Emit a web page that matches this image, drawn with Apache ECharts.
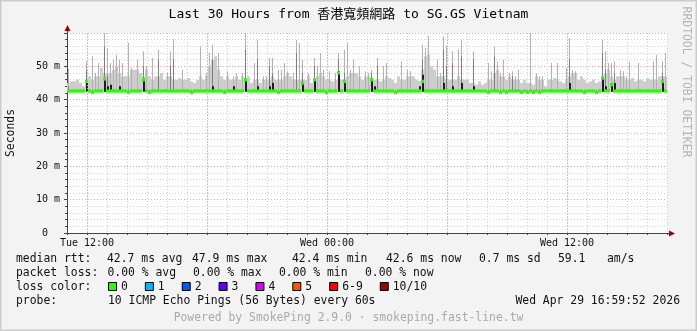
<!DOCTYPE html>
<html><head><meta charset="utf-8">
<script src="https://cdn.jsdelivr.net/npm/echarts@6/dist/echarts.min.js"></script>
<style>html,body{margin:0;padding:0;background:#f3f3f3;overflow:hidden}#c{width:697px;height:331px}</style>
</head><body><div id="c"></div>
<script>
// ---------------- data ----------------
const titleText = 'Last 30 Hours from 香港寬頻網路 to SG.GS Vietnam';
const yAxisTitle = 'Seconds';
const sideText = 'RRDTOOL / TOBI OETIKER';
const stepHours = 0.15;             // 9-minute columns, 200 columns = 30 h (from Tue 11:00)
const xTickHours = [1, 13, 25];
const xTickLabels = ['Tue 12:00', 'Wed 00:00', 'Wed 12:00'];
const majorGridHours = [1, 7, 13, 19, 25];
const yTickValues = [0, 10, 20, 30, 40, 50];
const yTickLabels = ['0  ', '10 m', '20 m', '30 m', '40 m', '50 m'];
const smokeFloor = 42.4;   // ms

// broad smoke level per column (ms)
const smokeBase = [
 45,45.5,45.5,46,45,44,46,47,46,47,
 47,49.5,48,48,48,49,50,48,47,47,
 47,49,49,49,48,47,49,47,46,47,
 47,48,46,47,47,46,46,46.5,46,46,
 46.5,45.5,45,46,47,46,47,50,52,53,
 49,47,46,47,46,46,47,46,47,46,
 47,45,46,46,45,46,46,46,47,46,
 46,46,47,48,47,46,46,46,46,46,
 47,45,46,47,48,47,46,46,45.5,46,
 46,46,46,47,48,48,48,47,46,47,
 47,46,46,46,45.5,46,47,46.5,46,45,
 47,46,46,47,47,47,46,45.5,49,53,
 53.5,50,49,47,47,47,46,46,46,46,
 47,46,46,46,45,45,44.5,45.5,44.5,45,
 46,46,48,49,47,47,46,47,46,46,
 46,45,46,45,45,44.5,47,46,46,44,
 46,46,46.5,46,45.5,45,46,47,48,48,
 46,47,46,45,45.5,46,45,45.5,47,48,
 49,47,46,47,47,47,46,46,46.5,45.5,
 46,46,45.5,46.5,46,46,46,47,47,47];

// highest ping per column (ms)
const smokeMax = [
 49.2,45.5,45.5,46,45,44,51.5,47,53,48,
 51,49.5,60.5,55.5,51,52,53.5,52,51,47,
 57,49.5,49,52,48,54.5,50,47,52.5,47,
 55,48,46,48,54.5,58.2,46,46.5,49,46,
 46.5,45.5,45,46,56,46,48,54,56.5,53,
 54,47,46,48.5,46,47,48,46,48,60.5,
 47,45,51,58,45,47,47,52.5,52.5,46,
 49,49,51,48.5,47,48,58,57,52,46,
 48,45,52.5,50,54,49,46,48.5,45.5,48,
 54,46,55,57,49,52,48,50,46,48.5,
 48,49,46,52.5,45.5,50,51,46.5,46,45,
 47,51.5,46,49,48.5,47,46,45.5,56.5,55.5,
 59,50,49,52,48,59,56,46,54.5,46,
 55,58,46,46,45,54.5,44.5,45.5,44.5,45,
 51,48.5,56,51.5,48,52,46,48,48.5,47,
 49,45,46,45,60,44.5,48,47,47,44,
 46,51,46.5,51,45.5,45,49.5,58.5,49,48.5,
 46,47,46,45,45.5,46,45,45.5,58,54.5,
 51,51,51.5,47,49,48.5,47,51.5,46.5,45.5,
 51,46,45.5,46.5,46,51.5,53.5,47,51.5,54];

// inner (darker) smoke top per column (ms)
const smokeMid = [
 44,43,43,43,43,43,49,43,43,43,
 43,43,56,47,43,43,43,43,43,43,
 43,43,43,43,43,50,43,43,43,43,
 52,43,43,43,50,52,43,43,43,43,
 43,43,43,43,43,43,43,43,52,43,
 43,43,43,43,43,43,43,43,43,55,
 43,43,43,52,43,43,43,50,48,43,
 43,43,43,43,43,43,54,43,48,43,
 43,43,50,43,43,43,43,43,43,43,
 52,43,48,43,43,43,43,43,43,43,
 43,48,43,50,43,43,43,43,43,43,
 43,43,43,43,43,43,43,43,52,43,
 43,43,43,43,43,55,50,43,51,43,
 43,53,43,43,43,52,43,43,43,43,
 43,43,53,43,43,43,43,43,47,43,
 43,43,43,43,43,43,43,43,43,43,
 43,43,43,43,43,43,43,52,43,43,
 43,43,43,43,43,43,43,43,54,49,
 43,43,48,43,43,43,43,43,43,43,
 43,43,43,43,43,43,43,43,48,43];

// core (black) smoke top per column (ms), 0 = none
const smokeDark = [
 0,0,0,0,0,0,45.5,0,0,0,
 0,0,46.2,44,44.5,0,0,44,0,0,
 0,0,0,0,0,46,0,0,0,0,
 0,0,0,0,0,0,0,0,0,0,
 0,0,0,0,0,0,0,0,44,0,
 0,0,0,0,0,44,0,0,0,46,
 0,0,0,44,0,0,0,44,45,0,
 0,0,0,0,0,0,0,0,45,0,
 0,0,46,0,0,0,0,0,0,0,
 48.5,0,45.5,0,0,0,0,0,0,0,
 0,46,44,0,0,0,0,0,0,0,
 0,0,0,0,0,0,0,44,47.5,0,
 0,0,0,0,0,45,0,0,44,0,
 0,45,0,0,0,44,0,0,0,0,
 0,0,0,0,0,0,0,0,0,0,
 0,0,0,0,0,0,0,0,0,0,
 0,0,0,0,0,0,0,45,0,0,
 0,0,0,0,0,0,0,0,46.5,44,
 0,45,45,0,0,0,0,0,0,0,
 0,0,0,0,0,0,0,0,46,0];

const medianRtt = [
 42.6,42.6,42.6,42.6,42.6,42.6,45.5,42.6,42.2,42.6,
 42.6,42.6,46.2,42.6,42.6,42.6,42.6,42.6,42.6,42.6,
 42.2,42.6,42.6,42.6,42.6,46,42.6,42.2,42.6,42.6,
 42.6,42.6,42.6,42.6,42.6,42.6,42.6,42.6,42.6,42.6,
 42.6,42.2,42.6,42.6,42.6,42.6,42.6,42.6,42.6,42.6,
 42.6,42.6,42.2,42.6,42.6,42.6,42.6,42.6,42.6,46,
 42.6,42.6,42.6,42.6,42.6,42.6,42.6,42.6,42.6,42.6,
 42.2,42.6,42.6,42.6,42.6,42.6,42.6,42.6,45,42.6,
 42.6,42.6,46,42.6,42.6,42.6,42.2,42.6,42.6,42.6,
 48,42.6,45.5,42.6,42.6,42.6,42.6,42.6,42.6,42.6,
 42.6,46,42.6,42.6,42.6,42.6,42.6,42.6,42.6,42.2,
 42.6,42.6,42.6,42.6,42.6,42.6,42.6,42.6,45.5,42.6,
 42.6,42.6,42.6,42.6,42.6,42.6,42.6,42.6,42.6,42.6,
 42.6,42.6,42.6,42.6,42.6,42.6,42.6,42.6,42.6,42.6,
 42.2,42.6,42.6,42.6,42.2,42.6,42.2,42.6,42.6,42.6,
 42.6,42.2,42.6,42.2,42.6,42.2,42.6,42.2,42.6,42.6,
 42.6,42.6,42.6,42.6,42.6,42.6,42.6,42.6,42.6,42.6,
 42.6,42.6,42.2,42.6,42.6,42.6,42.2,42.6,46.5,42.6,
 42.6,44.5,42.6,42.6,42.6,42.6,42.6,42.6,42.6,42.6,
 42.6,42.6,42.6,42.6,42.6,42.6,42.6,42.6,45.5,42.6];

const legendRtt = ['median rtt:', '42.7 ms avg', '47.9 ms max', '42.4 ms min', '42.6 ms now', '0.7 ms sd', '59.1', 'am/s'];
const legendLoss = ['packet loss:', '0.00 % avg', '0.00 % max', '0.00 % min', '0.00 % now'];
const lossTitle = 'loss color:';
const lossLabels = ['0', '1', '2', '3', '4', '5', '6-9', '10/10'];
const lossColors = ['#26ff00', '#00b8ff', '#0059ff', '#5e00ff', '#dd00ff', '#ff5500', '#ff0000', '#a10000'];
const probeTitle = 'probe:';
const probeText = '10 ICMP Echo Pings (56 Bytes) every 60s';
const dateText = 'Wed Apr 29 16:59:52 2026';
const poweredText = 'Powered by SmokePing 2.9.0 · smokeping.fast-line.tw';

// ---------------- layout ----------------
const W = 697, H = 331;
const G = { left: 67, top: 33, right: 30, bottom: 98 };
const mono = "'DejaVu Sans Mono', 'Noto Sans CJK TC', monospace";
const LF = 11.4, CW = LF * 0.602;
const rttX = [16, 107, 192, 292, 386, 479, 558, 607];
const lossX = [16, 107.5, 193, 279, 365];
const rowY = [259, 273, 287, 301, 318];
const txtCol = '#111';

const chart = echarts.init(document.getElementById('c'), null, { renderer: 'canvas' });
const data = smokeMax.map((v, i) => [(i + 0.5) * stepHours, smokeFloor, smokeBase[i], v, smokeMid[i], smokeDark[i], medianRtt[i]]);

function renderItem(params, api) {
  const x = api.value(0), lo = api.value(1);
  const w = api.size([stepHours, 0])[0];
  const kids = [];
  const pLo = api.coord([x, lo]);
  const left = pLo[0] - w / 2;
  const bar = (from, top, color, off, width) => {
    const p1 = api.coord([x, from]), p2 = api.coord([x, top]);
    return { type: 'rect', shape: { x: left + off, y: p2[1], width, height: p1[1] - p2[1] }, style: { fill: color } };
  };
  const base = api.value(2), mx = api.value(3), mid = api.value(4), dk = api.value(5);
  kids.push(bar(lo, Math.min(base, mx), '#cdcdcd', 0, w));
  if (mx > base) kids.push(bar(lo, mx, '#b2b2b2', w / 3, w / 3));
  if (mid > lo) kids.push(bar(lo, mid, '#7e7e7e', w / 3, w / 3));
  if (dk > lo) kids.push(bar(lo, dk, '#1e1e1e', w / 3, 2 * w / 3));
  const pm = api.coord([x, api.value(6)]);
  kids.push({ type: 'rect', shape: { x: left, y: pm[1] - 1.6, width: w, height: 3.2 }, style: { fill: '#26ff00' } });
  return { type: 'group', children: kids };
}

const txt = (s, x, y, opt = {}) => Object.assign({
  type: 'text', x, y, silent: true,
  style: Object.assign({ text: s, fill: txtCol, font: `${LF}px ${mono}`, textAlign: 'left', textVerticalAlign: 'middle' }, opt.style || {})
}, opt.el || {});

const graphics = [];
graphics.push({ type: 'rect', shape: { x: 0.5, y: 0.5, width: W - 1, height: H - 1 }, style: { fill: 'none', stroke: '#cccccc', lineWidth: 2 }, silent: true });
graphics.push(txt(titleText, W / 2, 15, { style: { textAlign: 'center', font: `13px ${mono}`, fill: '#000' } }));
graphics.push(txt(yAxisTitle, 11, G.top + (H - G.top - G.bottom) / 2, { style: { textAlign: 'center', font: `11.4px ${mono}` }, el: { rotation: Math.PI / 2 } }));
graphics.push(txt(sideText, 686, 82, { style: { textAlign: 'center', font: `11.4px ${mono}`, fill: '#b4b4b4' }, el: { rotation: -Math.PI / 2 } }));
const yBottom = H - G.bottom, xRight = W - G.right;
graphics.push({ type: 'line', shape: { x1: G.left + 0.5, y1: G.top, x2: G.left + 0.5, y2: G.top - 3 }, style: { stroke: '#444' }, silent: true });
graphics.push({ type: 'polygon', shape: { points: [[G.left + 0.5, G.top - 8], [G.left - 2.5, G.top - 2], [G.left + 3.5, G.top - 2]] }, style: { fill: '#a00000' }, silent: true, z: 10 });
graphics.push({ type: 'line', shape: { x1: xRight, y1: yBottom + 0.5, x2: xRight + 3, y2: yBottom + 0.5 }, style: { stroke: '#444' }, silent: true });
graphics.push({ type: 'polygon', shape: { points: [[xRight + 8, yBottom + 0.5], [xRight + 2, yBottom - 2.5], [xRight + 2, yBottom + 3.5]] }, style: { fill: '#a00000' }, silent: true, z: 10 });
legendRtt.forEach((s, i) => graphics.push(txt(s, rttX[i], rowY[0])));
legendLoss.forEach((s, i) => graphics.push(txt(s, lossX[i], rowY[1])));
graphics.push(txt(lossTitle, 16, rowY[2]));
let lx = 108;
lossLabels.forEach((s, i) => {
  graphics.push({ type: 'rect', shape: { x: lx + 0.5, y: rowY[2] - 4.5, width: 8, height: 8 }, style: { fill: lossColors[i], stroke: '#000', lineWidth: 1 }, silent: true });
  graphics.push(txt(s, lx + 13, rowY[2]));
  lx += 13 + s.length * CW + 17;
});
graphics.push(txt(probeTitle, 16, rowY[3]));
graphics.push(txt(probeText, 108, rowY[3]));
graphics.push(txt(dateText, 680, rowY[3], { style: { textAlign: 'right' } }));
graphics.push(txt(poweredText, W / 2, rowY[4], { style: { textAlign: 'center', fill: '#aaaaaa' } }));

const axisCol = '#444';
const option = {
  animation: false,
  backgroundColor: '#f3f3f3',
  grid: { left: G.left, top: G.top, right: G.right, bottom: G.bottom, show: true, backgroundColor: '#ffffff', borderWidth: 0 },
  xAxis: {
    type: 'value', min: 0, max: 30, interval: 1,
    axisLine: { show: true, onZero: false, lineStyle: { color: axisCol, width: 1 } },
    axisTick: { show: true, length: 2, lineStyle: { color: axisCol } },
    axisLabel: {
      margin: 5, color: '#111', fontFamily: mono, fontSize: 10, showMinLabel: true, showMaxLabel: true,
      formatter: v => { const k = xTickHours.indexOf(v); return k >= 0 ? xTickLabels[k] : ''; }
    },
    splitLine: { show: true, lineStyle: { color: '#cfcfcf', type: [1, 2], width: 1 } }
  },
  yAxis: {
    type: 'value', min: 0, max: 60, interval: 10,
    axisLine: { show: true, lineStyle: { color: axisCol, width: 1 } },
    axisTick: { show: true, length: 3, lineStyle: { color: axisCol } },
    minorTick: { show: true, splitNumber: 5, length: 2, lineStyle: { color: axisCol } },
    axisLabel: {
      margin: 7, color: '#111', fontFamily: mono, fontSize: 10,
      formatter: v => { const k = yTickValues.indexOf(v); return k >= 0 ? yTickLabels[k] : ''; }
    },
    splitLine: { show: true, lineStyle: { color: '#f0a0a0', type: [1, 2], width: 1 } },
    minorSplitLine: { show: true, lineStyle: { color: '#d4d4d4', type: [1, 2], width: 1 } }
  },
  series: [
    { type: 'custom', renderItem, data, clip: true, silent: true, z: 2 },
    {
      type: 'line', data: [], silent: true, z: 3,
      markLine: {
        silent: true, symbol: 'none', label: { show: false },
        lineStyle: { color: '#f0a0a0', type: [1, 2], width: 1 },
        data: majorGridHours.map(h => ({ xAxis: h }))
      }
    }
  ],
  graphic: graphics
};
chart.setOption(option);
</script>
</body></html>
